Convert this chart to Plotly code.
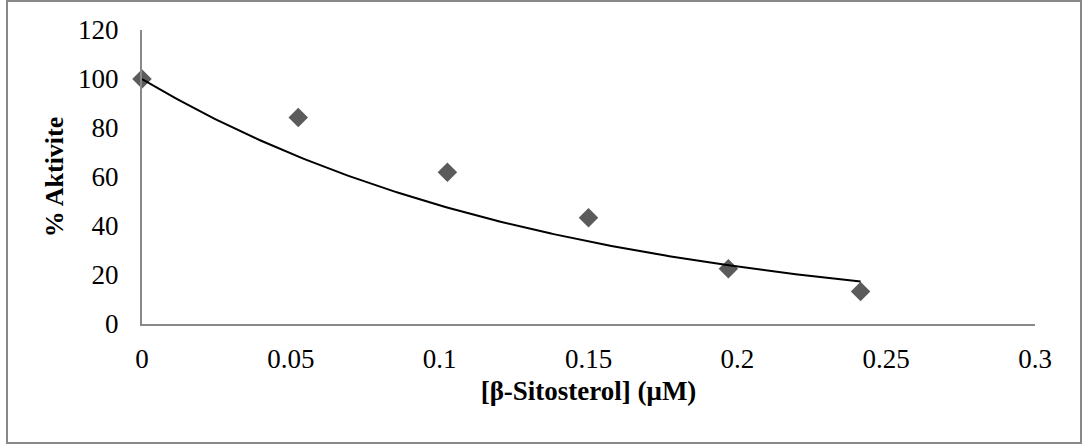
import numpy as np
import plotly.graph_objects as go

conc = [0.0, 0.0525, 0.1026, 0.150, 0.197, 0.2414]
activity = [100.0, 84.3, 61.9, 43.4, 22.6, 13.3]
x_ticks = [0, 0.05, 0.1, 0.15, 0.2, 0.25, 0.3]
x_tick_text = ["0", "0.05", "0.1", "0.15", "0.2", "0.25", "0.3"]
y_ticks = [0, 20, 40, 60, 80, 100, 120]

# Exponential trendline with intercept fixed at 100 (Excel style)
xa = np.array(conc)
ya = np.array(activity)
intercept = 100.0
b = np.sum(xa * (np.log(ya) - np.log(intercept))) / np.sum(xa ** 2)
xt = np.linspace(min(conc), max(conc), 200)
yt = intercept * np.exp(b * xt)

font_fam = "Liberation Serif, Times New Roman, serif"

fig = go.Figure()
fig.add_trace(go.Scatter(x=conc, y=activity, mode="markers",
                         marker=dict(symbol="diamond", size=15, color="#5b5b5b"),
                         showlegend=False, cliponaxis=False))
fig.add_trace(go.Scatter(x=xt, y=yt, mode="lines",
                         line=dict(color="black", width=2),
                         showlegend=False))

L, R, T, B = 142, 48, 30, 121
W, H = 1083, 445
pw, ph = W - L - R, H - T - B

fig.update_layout(
    width=W, height=H,
    margin=dict(l=L, r=R, t=T, b=B),
    paper_bgcolor="white", plot_bgcolor="white",
    font=dict(family=font_fam, size=27, color="black"),
    xaxis=dict(range=[0, 0.3], tickvals=x_ticks, ticktext=x_tick_text,
               showgrid=False, zeroline=False, showline=True,
               tickfont=dict(size=27),
               linecolor="#888888", linewidth=2, ticks="", ticklabelstandoff=10,
               title=dict(text="<b>[β-Sitosterol] (μM)</b>", standoff=8,
                          font=dict(size=27))),
    yaxis=dict(range=[0, 120], tickvals=y_ticks,
               showgrid=False, zeroline=False, showline=True,
               tickfont=dict(size=27),
               linecolor="#888888", linewidth=2, ticks="", ticklabelstandoff=16,
               title=dict(text="<b>% Aktivite</b>", standoff=7,
                          font=dict(size=26))),
    shapes=[dict(type="rect", xref="paper", yref="paper",
                 x0=(7 - L) / pw, x1=(1081 - L) / pw,
                 y0=(H - B - 443) / ph, y1=(H - B - 1) / ph,
                 line=dict(color="#888888", width=2), fillcolor="rgba(0,0,0,0)",
                 layer="below")],
)

fig.write_html("out.html")
